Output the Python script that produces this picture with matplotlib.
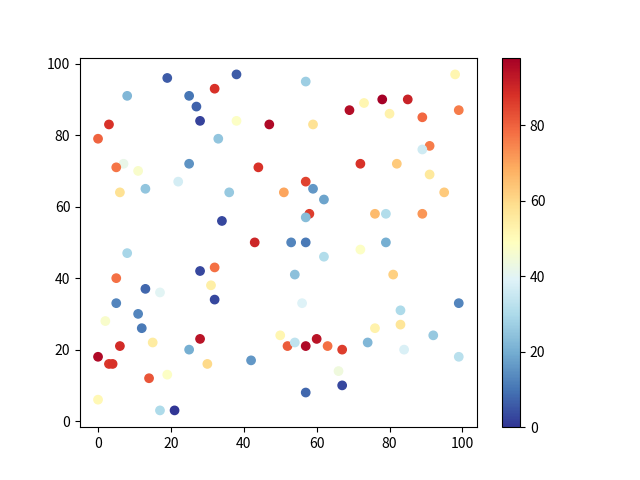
import matplotlib
matplotlib.use("Agg")
import matplotlib.pyplot as plt

plt.rcParams['font.family'] = ['Noto Sans CJK SC', 'DejaVu Sans']

x = [19, 8, 25, 32, 27, 28, 3, 0, 33, 7, 5, 25, 11, 22, 6, 13, 34,
     38, 57, 69, 38, 47, 59, 44, 57, 59, 62, 36, 51, 58, 57, 43, 53, 57,
     98, 78, 85, 73, 80, 89, 99, 91, 89, 72, 82, 91, 95, 76, 79, 89, 79,
     8, 32, 28, 5, 31, 13, 17, 32, 5, 11, 2, 12, 28, 6, 15, 25, 0, 3, 4,
     30, 14, 19, 0, 17, 21,
     62, 54, 56, 50, 52, 54, 57, 60, 63, 67, 42, 66, 67, 57,
     72, 81, 99, 83, 76, 83, 92, 74, 84, 99]
y = [96, 91, 91, 93, 88, 84, 83, 79, 79, 72, 71, 72, 70, 67, 64, 65, 56,
     97, 95, 87, 84, 83, 83, 71, 67, 65, 62, 64, 64, 58, 57, 50, 50, 50,
     97, 90, 90, 89, 86, 85, 87, 77, 76, 72, 72, 69, 64, 58, 58, 58, 50,
     47, 43, 42, 40, 38, 37, 36, 34, 33, 30, 28, 26, 23, 21, 22, 20, 18, 16, 16,
     16, 12, 13, 6, 3, 3,
     46, 41, 33, 24, 21, 22, 21, 23, 21, 20, 17, 14, 10, 8,
     48, 41, 33, 31, 26, 27, 24, 22, 20, 18]
c = [6, 22, 10, 88, 7, 2, 88, 80, 25, 42, 77, 15, 47, 37, 58, 25, 3,
     6, 27, 95, 48, 96, 58, 88, 85, 16, 18, 26, 70, 86, 23, 90, 13, 11,
     52, 98, 91, 52, 53, 79, 76, 76, 36, 88, 63, 56, 63, 66, 31, 72, 20,
     29, 78, 3, 78, 54, 8, 40, 3, 13, 13, 47, 11, 94, 89, 55, 20, 96, 87, 88,
     60, 82, 48, 51, 30, 0,
     31, 24, 39, 52, 81, 33, 96, 94, 78, 86, 16, 44, 3, 8,
     48, 62, 13, 30, 53, 57, 26, 22, 38, 32]

fig, ax = plt.subplots(figsize=(6.4, 4.8), dpi=100)
sc = ax.scatter(x, y, c=c, cmap='RdYlBu_r')
fig.colorbar(sc, ax=ax)
fig.savefig("out.png")
